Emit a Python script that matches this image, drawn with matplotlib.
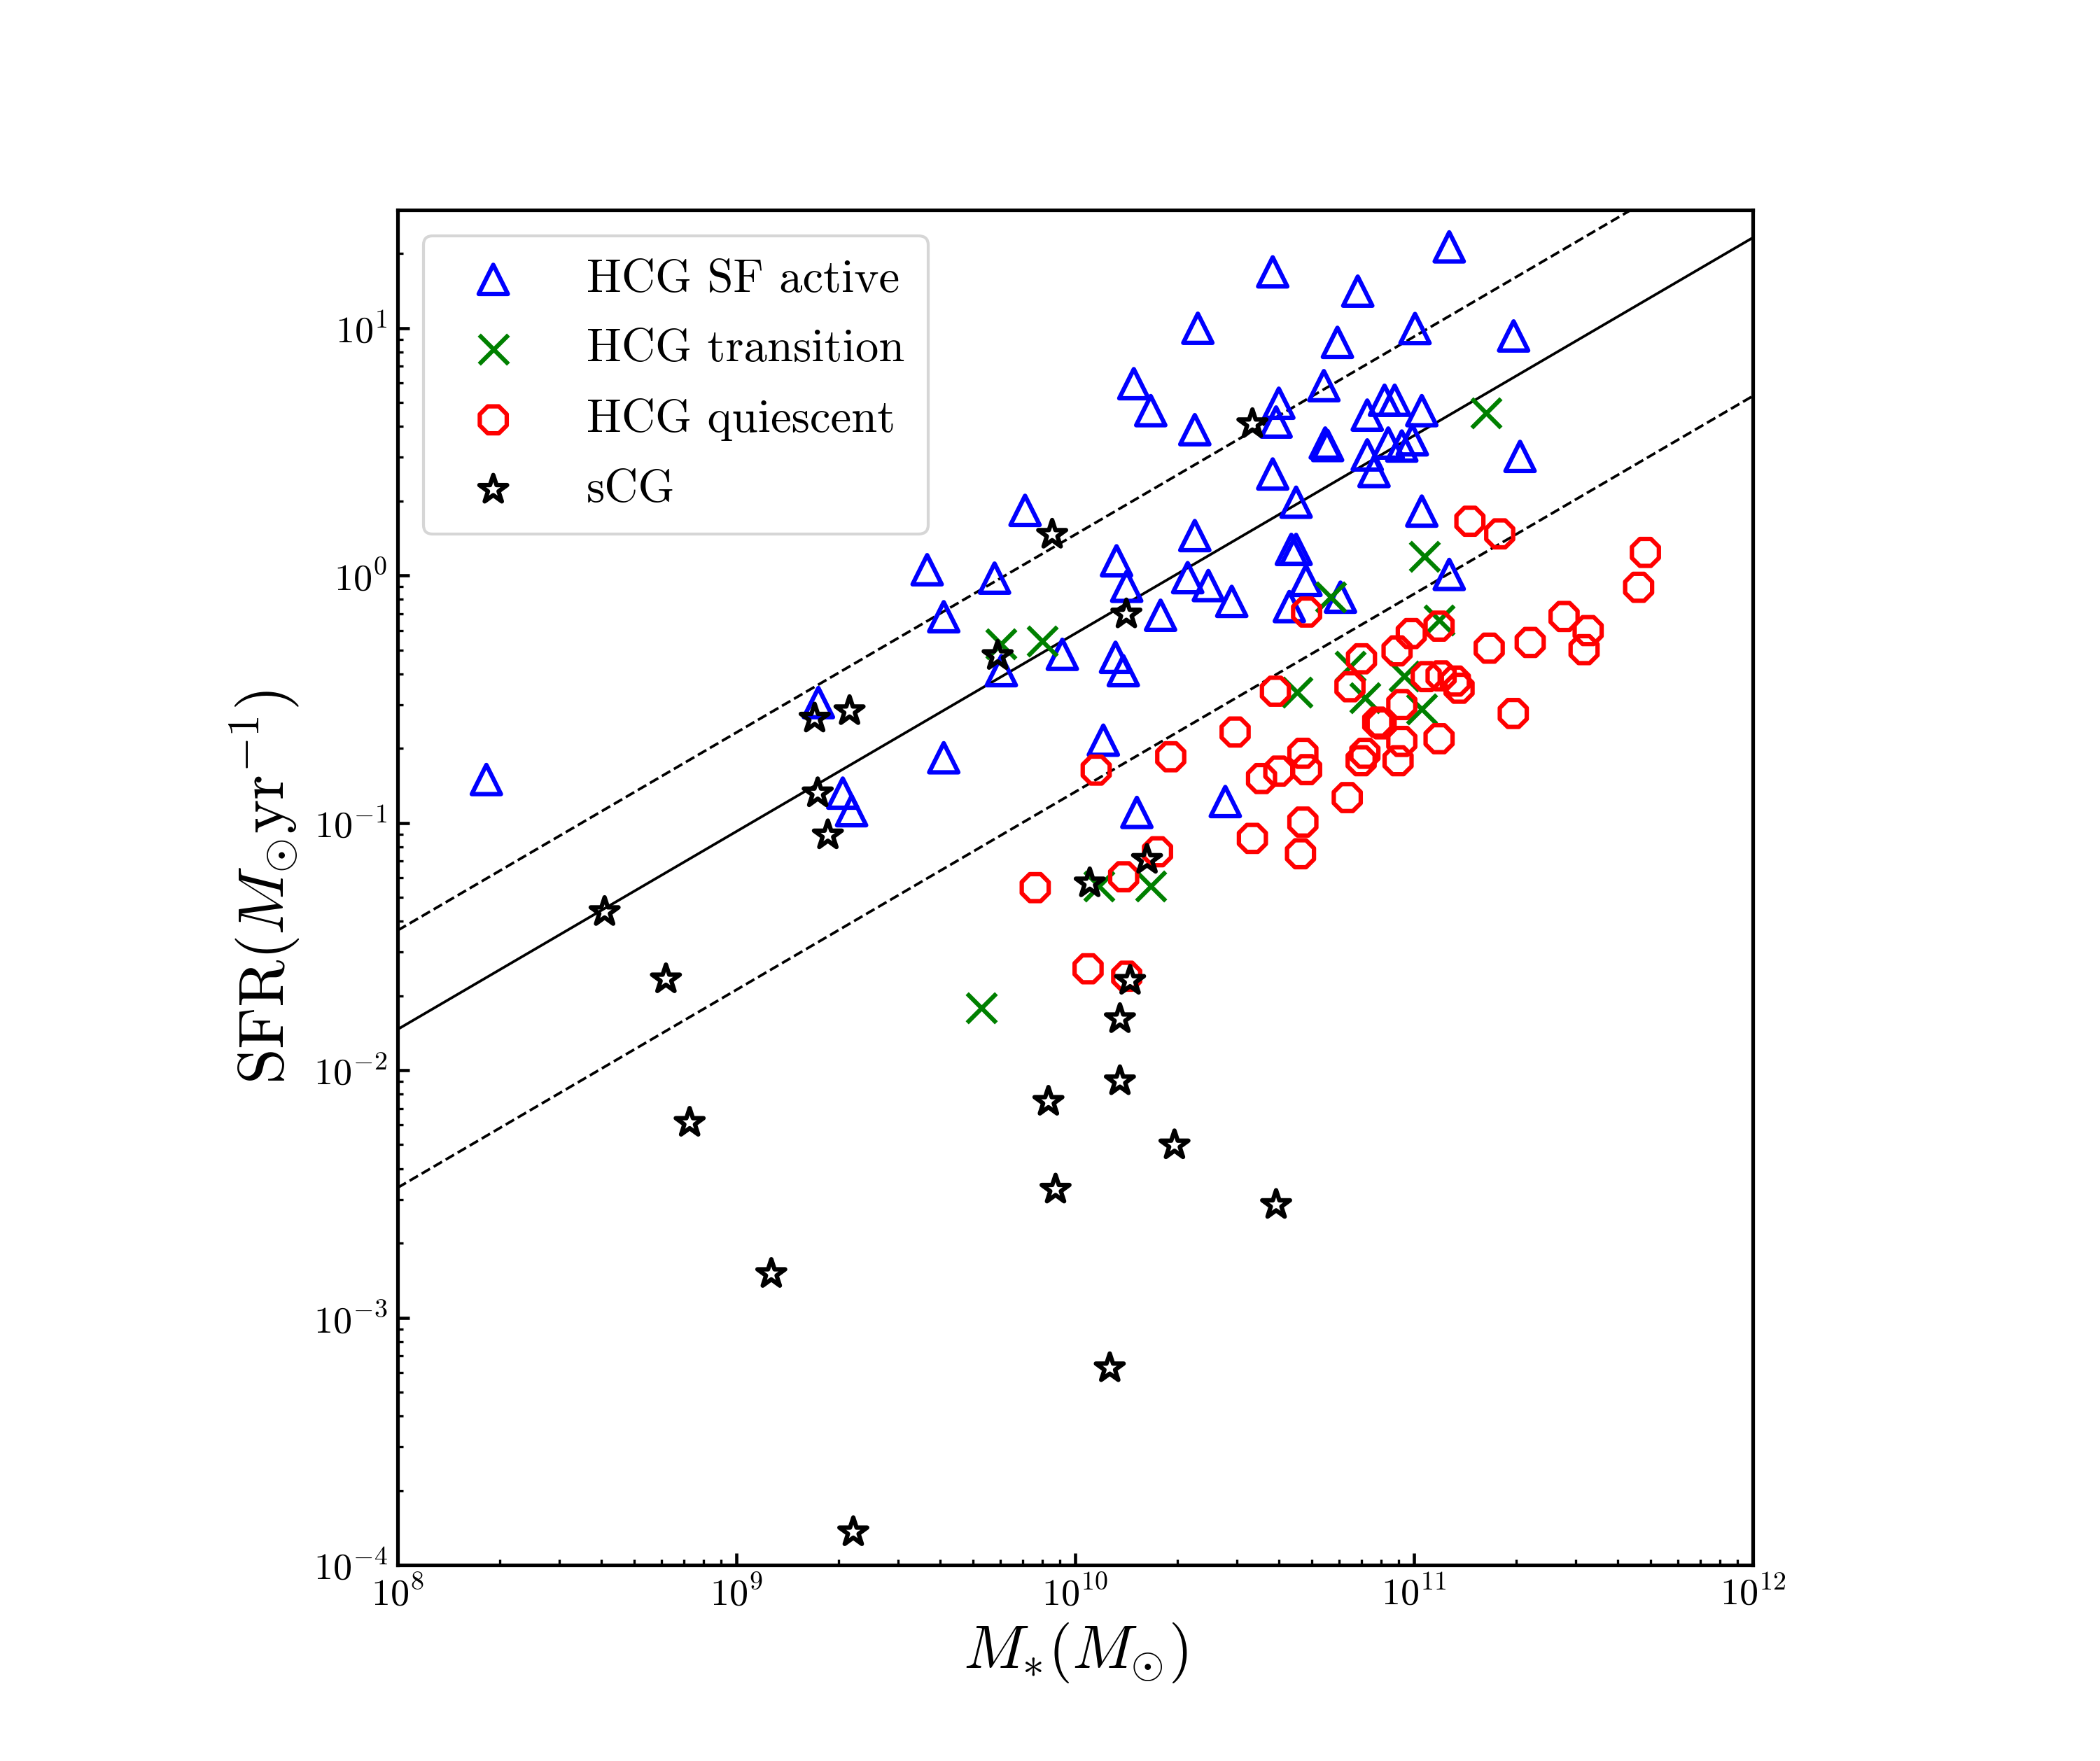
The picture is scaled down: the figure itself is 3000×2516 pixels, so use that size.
import numpy as np
import matplotlib
matplotlib.use("Agg")
import matplotlib.pyplot as plt

plt.rcParams.update({
    "font.family": "serif",
    "font.serif": ["cmr10"],
    "mathtext.fontset": "cm",
    "axes.formatter.use_mathtext": True,
    "axes.unicode_minus": False,
})

# ---- data (log10 values) ----
sf_logM = [10.583, 10.362, 10.173, 10.223, 10.353, 10.601, 10.593, 10.583, 10.652, 9.852,
           9.563, 9.612, 9.762, 10.122, 10.152, 10.353, 10.332, 10.393, 10.462, 10.252,
           10.638, 10.652, 10.632,
           11.104, 10.834, 11.003, 10.774, 11.294, 10.734, 10.913, 10.943, 11.023, 10.862,
           10.738, 10.745, 10.924, 10.964, 10.995, 10.862, 10.882, 11.313, 11.023, 11.104,
           10.681, 10.783,
           9.962, 10.119, 10.142, 9.782, 9.314, 9.340, 9.612, 10.083, 10.182, 10.443,
           8.262, 9.242]
sf_logSFR = [1.227, 0.999, 0.775, 0.666, 0.589, 0.696, 0.620, 0.410, 0.296, 0.263,
             0.023, -0.167, -0.011, 0.059, -0.044, 0.161, -0.009, -0.041, -0.105, -0.161,
             0.105, 0.105, -0.126,
             1.328, 1.149, 0.998, 0.942, 0.968, 0.767, 0.708, 0.708, 0.666, 0.648,
             0.535, 0.525, 0.535, 0.523, 0.548, 0.487, 0.420, 0.481, 0.260, 0.004,
             -0.020, -0.088,
             -0.319, -0.331, -0.385, -0.385, -0.880, -0.951, -0.737, -0.666, -0.958, -0.914,
             -0.825, -0.514]

tr_logM = [9.781, 9.902, 11.213, 11.031, 10.754, 11.074, 10.813, 10.654, 10.855, 10.972,
           11.023, 9.723, 10.071, 10.223]
tr_logSFR = [-0.277, -0.267, 0.658, 0.078, -0.086, -0.181, -0.367, -0.472, -0.496, -0.406,
             -0.540, -1.749, -1.256, -1.256]

q_logM = [11.165, 11.253, 11.683, 11.663, 10.683, 11.443, 11.514, 11.502, 11.343, 11.222,
          11.074, 10.992, 10.845, 10.950,
          10.811, 11.036, 11.080, 11.122, 11.133, 10.964, 10.893, 10.903, 10.964, 11.074,
          11.293, 10.672, 10.683, 10.855, 10.844, 10.953, 10.803, 10.672, 10.665,
          10.591, 10.472, 10.282, 10.062, 10.550, 10.601, 10.523, 10.243, 10.143, 9.882,
          10.038, 10.152]
q_logSFR = [0.219, 0.168, 0.093, -0.048, -0.148, -0.166, -0.223, -0.300, -0.271, -0.294,
            -0.205, -0.235, -0.337, -0.305,
            -0.450, -0.409, -0.406, -0.427, -0.456, -0.522, -0.593, -0.600, -0.671, -0.660,
            -0.558, -0.719, -0.785, -0.719, -0.749, -0.749, -0.898, -0.997, -1.125,
            -0.468, -0.633, -0.733, -0.787, -0.821, -0.791, -1.063, -1.117, -1.218, -1.262,
            -1.590, -1.620]

scg_logM = [10.523, 9.932, 10.151, 9.334, 9.771, 10.043, 10.212, 10.162, 10.132, 10.132,
            9.921, 9.231, 9.240, 9.270, 8.611, 8.792, 8.862, 9.103, 9.345, 10.293,
            9.942, 10.593, 10.102]
scg_logSFR = [0.612, 0.165, -0.157, -0.548, -0.325, -1.244, -1.149, -1.638, -1.793, -2.044,
              -2.127, -0.578, -0.880, -1.050, -1.360, -1.632, -2.212, -2.823, -3.867, -2.303,
              -2.482, -2.544, -3.204]

# main-sequence relation: log SFR = slope * log M + intercept
ms_slope = 0.80
ms_intercept = -8.235
upper_offset = 0.40
lower_offset = -0.64

labels = ["HCG SF active", "HCG transition", "HCG quiescent", "sCG"]

xlim = (1e8, 1e12)
ylim = (1e-4, 30)

fig = plt.figure(figsize=(10, 2516 / 300), dpi=300)
ax = fig.add_axes([568 / 3000, 1 - 2236 / 2516, 1936 / 3000, 1936 / 2516])

def tv(a):
    return 10 ** np.asarray(a)

ax.scatter(tv(sf_logM), tv(sf_logSFR), s=100, marker="^", facecolors="none",
           edgecolors="b", linewidths=1.5, label=labels[0], zorder=3)
ax.scatter(tv(tr_logM), tv(tr_logSFR), s=100, marker="x", c="g",
           linewidths=1.5, label=labels[1], zorder=3)
ax.scatter(tv(q_logM), tv(q_logSFR), s=100, marker="8", facecolors="none",
           edgecolors="r", linewidths=1.5, label=labels[2], zorder=3)
ax.scatter(tv(scg_logM), tv(scg_logSFR), s=100, marker="*", facecolors="none",
           edgecolors="k", linewidths=1.5, label=labels[3], zorder=3)

lx = np.linspace(np.log10(xlim[0]), np.log10(xlim[1]), 50)
ly = ms_slope * lx + ms_intercept
ax.plot(10 ** lx, 10 ** ly, "k-", lw=0.9, zorder=2)
ax.plot(10 ** lx, 10 ** (ly + upper_offset), "k--", lw=0.9, zorder=2)
ax.plot(10 ** lx, 10 ** (ly + lower_offset), "k--", lw=0.9, zorder=2)

ax.set_xscale("log")
ax.set_yscale("log")
ax.set_xlim(*xlim)
ax.set_ylim(*ylim)

for s in ax.spines.values():
    s.set_linewidth(1.25)
ax.tick_params(which="both", direction="in", top=False, right=False, labelsize=13)
ax.tick_params(which="major", length=4, width=1.1)
ax.tick_params(which="minor", length=2, width=0.8)

ax.set_xlabel(r"$M_{*}(M_{\odot})$", fontsize=21, labelpad=3)
ax.set_ylabel(r"$\mathrm{SFR}(M_{\odot}\mathrm{yr}^{-1})$", fontsize=22, labelpad=4)

ax.legend(loc="upper left", fontsize=16, scatterpoints=1, borderpad=0.5,
          handletextpad=1.0, labelspacing=0.6, borderaxespad=0.55)

fig.savefig("out.png", dpi=300)
